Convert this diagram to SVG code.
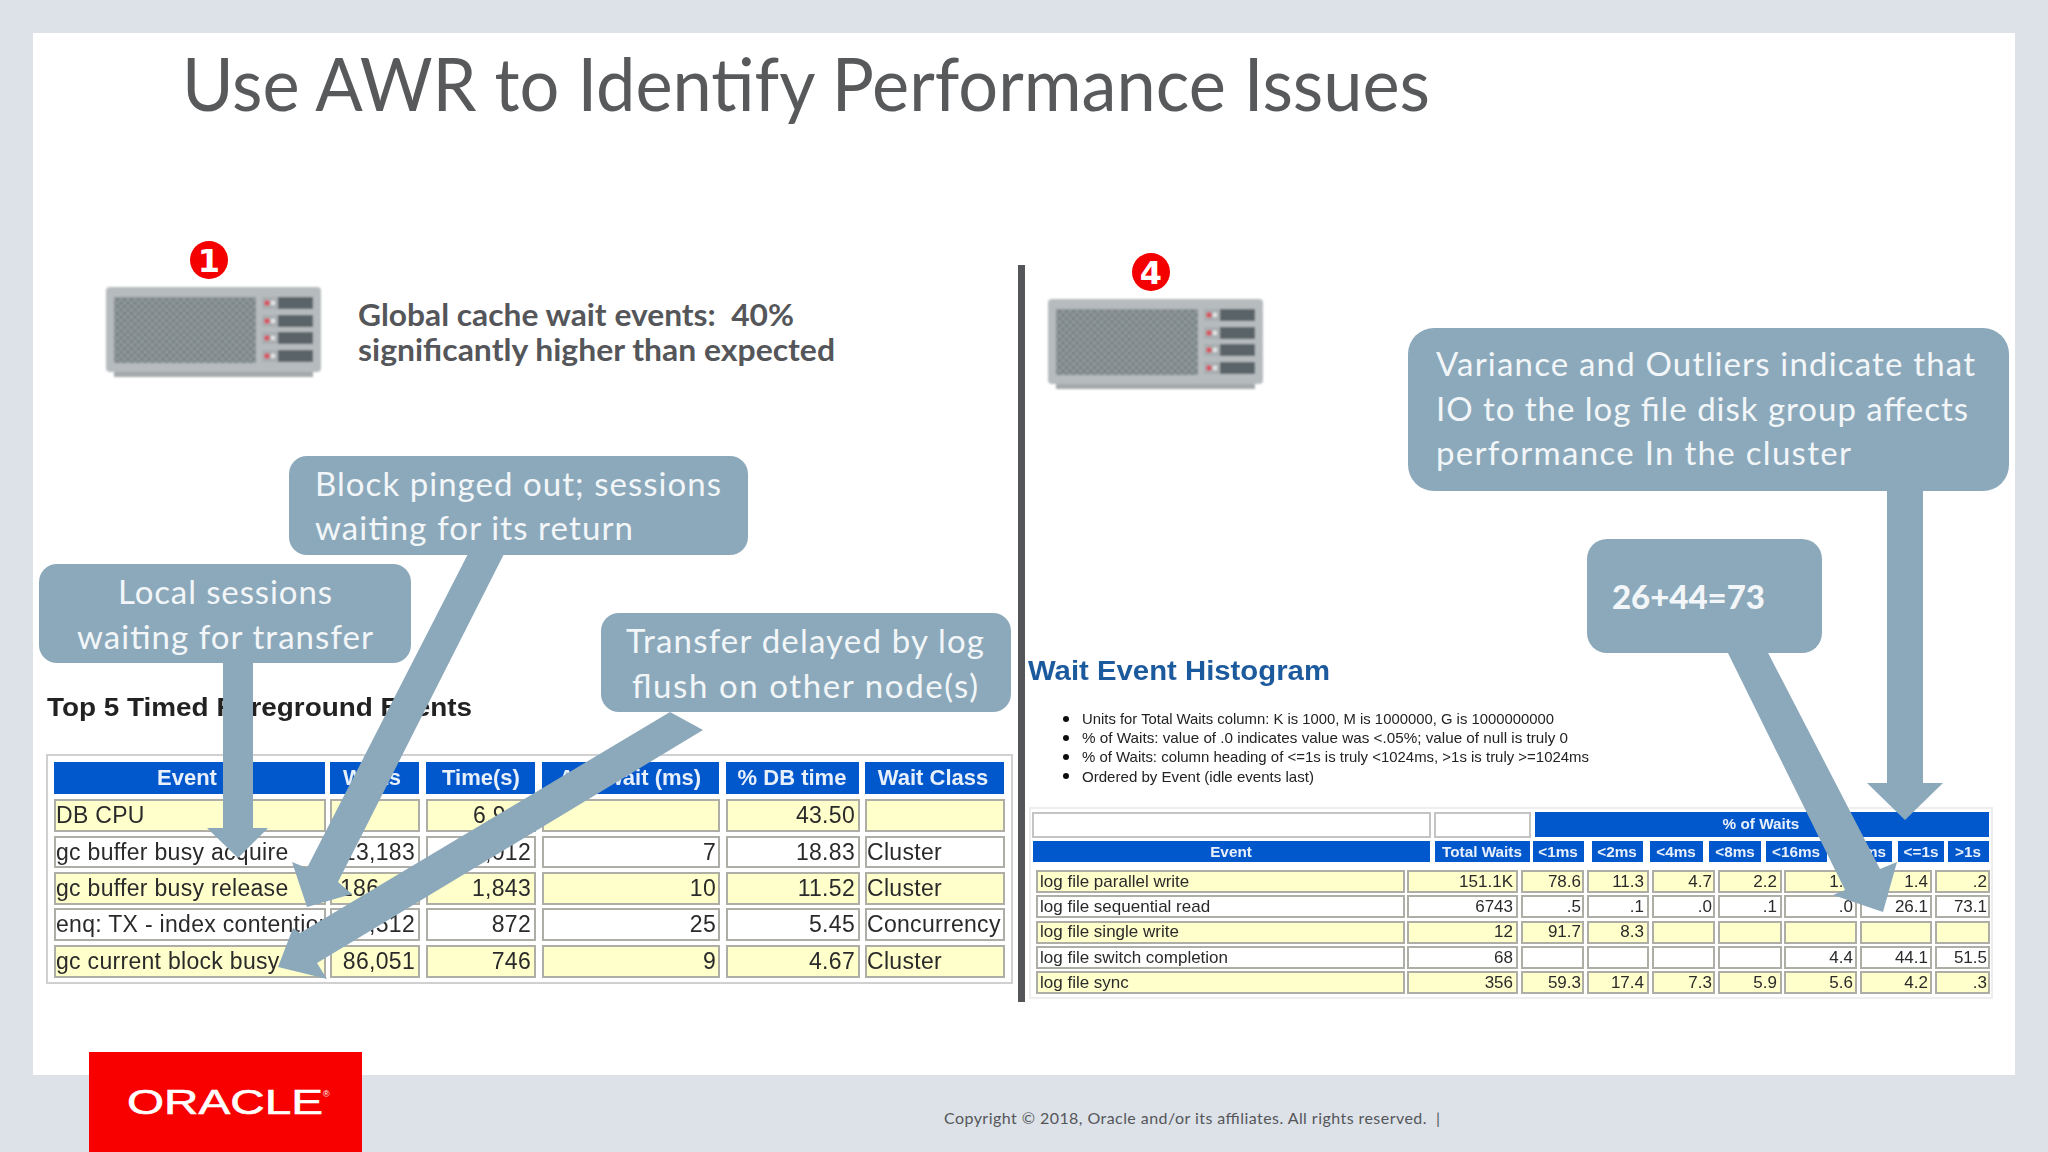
<svg xmlns="http://www.w3.org/2000/svg" width="2048" height="1152" viewBox="0 0 2048 1152">
<style>
.sl{font-family:Lato,"Liberation Sans",sans-serif}
.ca{font-family:Lato,"Liberation Sans",sans-serif;font-size:33px;fill:#f2f6f8}
.co{fill:#8ca9bb}
.y{fill:#ffffcc;stroke:#aeaea6;stroke-width:2}
.w{fill:#fff;stroke:#aeaea6;stroke-width:2}
.w0{fill:#fff;stroke:#c4c4c4;stroke-width:2}
.b{fill:#0558cc}
.t1{font-family:"Liberation Sans",Arial,sans-serif;font-size:23px;letter-spacing:.3px;fill:#2a2a2a}
.h1{font-family:"Liberation Sans",Arial,sans-serif;font-size:22px;font-weight:bold;fill:#e8f0fb;text-anchor:middle}
.t2{font-family:"Liberation Sans",Arial,sans-serif;font-size:17px;fill:#2a2a2a}
.h2{font-family:"Liberation Sans",Arial,sans-serif;font-size:15.3px;font-weight:bold;fill:#e8f0fb;text-anchor:middle}
.n{font-family:"Liberation Sans",Arial,sans-serif;font-size:15px;fill:#222}
.e{text-anchor:end}
.bd{font-family:"DejaVu Sans",sans-serif;font-size:32px;font-weight:bold;fill:#fff;text-anchor:middle}
</style>
<defs>
<filter id="soft" x="-2%" y="-2%" width="104%" height="104%"><feGaussianBlur stdDeviation="0.65"/></filter>
<filter id="softer" x="-2%" y="-2%" width="104%" height="104%"><feGaussianBlur stdDeviation="1"/></filter>
<pattern id="grille" width="7" height="7" patternUnits="userSpaceOnUse"><rect width="7" height="7" fill="#8f979a"/><circle cx="2" cy="2" r="1.5" fill="#6a7477"/><circle cx="5.5" cy="5.5" r="1.5" fill="#6a7477"/></pattern>
<g id="srv" filter="url(#softer)">
<rect x="114" y="370" width="199" height="7" fill="#a4a9ac"/>
<rect x="106" y="287" width="215" height="85" rx="4" fill="#b6bbbe"/>
<rect x="114" y="297" width="142" height="66" fill="url(#grille)"/>
<rect x="262" y="297" width="51" height="12" fill="#a9aeb1"/><rect x="278" y="297" width="35" height="12" fill="#5a6368"/><circle cx="267" cy="303" r="2.8" fill="#d8525e"/><circle cx="273" cy="303" r="2.4" fill="#e2e5e5"/>
<rect x="262" y="315" width="51" height="12" fill="#a9aeb1"/><rect x="278" y="315" width="35" height="12" fill="#5a6368"/><circle cx="267" cy="321" r="2.8" fill="#d8525e"/><circle cx="273" cy="321" r="2.4" fill="#e2e5e5"/>
<rect x="262" y="332" width="51" height="12" fill="#a9aeb1"/><rect x="278" y="332" width="35" height="12" fill="#5a6368"/><circle cx="267" cy="338" r="2.8" fill="#d8525e"/><circle cx="273" cy="338" r="2.4" fill="#e2e5e5"/>
<rect x="262" y="350" width="51" height="12" fill="#a9aeb1"/><rect x="278" y="350" width="35" height="12" fill="#5a6368"/><circle cx="267" cy="356" r="2.8" fill="#d8525e"/><circle cx="273" cy="356" r="2.4" fill="#e2e5e5"/>
</g>
</defs>

<rect width="2048" height="1152" fill="#dce2e8"/>
<rect x="33" y="33" width="1982" height="1042" fill="#fff"/>

<g id="title"><text class="sl" x="182" y="111" font-size="74" fill="#58595b" textLength="1248" lengthAdjust="spacingAndGlyphs">Use AWR to Identify Performance Issues</text></g>

<g id="server1"><use href="#srv"/><circle cx="209" cy="260" r="19" fill="#f40000"/><text class="bd" x="209" y="272">1</text></g>
<g id="server1-note">
<text class="sl" x="358" y="326" font-size="30" font-weight="bold" fill="#55565a" textLength="436" lengthAdjust="spacingAndGlyphs" xml:space="preserve">Global cache wait events:  40%</text>
<text class="sl" x="358" y="361" font-size="30" font-weight="bold" fill="#55565a" textLength="477" lengthAdjust="spacingAndGlyphs">significantly higher than expected</text>
</g>
<g id="server4"><use href="#srv" x="942" y="12"/><circle cx="1151" cy="272" r="19" fill="#f40000"/><text class="bd" x="1151" y="284">4</text></g>

<rect id="divider" x="1018" y="265" width="7" height="737" fill="#55565a"/>

<g id="top5-table" filter="url(#soft)">
<text x="47" y="716" font-family="Liberation Sans,Arial,sans-serif" font-size="25" font-weight="bold" fill="#222" textLength="425" lengthAdjust="spacingAndGlyphs">Top 5 Timed Foreground Events</text>
<rect x="47" y="755" width="965" height="228" fill="#fff" stroke="#d0d0d0" stroke-width="2"/>
<rect class="b" x="54" y="762" width="271" height="32"/><rect class="b" x="330" y="762" width="89" height="32"/><rect class="b" x="426" y="762" width="109" height="32"/><rect class="b" x="542" y="762" width="177" height="32"/><rect class="b" x="726" y="762" width="133" height="32"/><rect class="b" x="865" y="762" width="139" height="32"/>
<text class="h1" x="187" y="785">Event</text><text class="h1" x="372" y="785">Waits</text><text class="h1" x="481" y="785">Time(s)</text><text class="h1" x="630" y="785">Avg wait (ms)</text><text class="h1" x="792" y="785">% DB time</text><text class="h1" x="933" y="785">Wait Class</text>

<rect class="y" x="55" y="800" width="270" height="31"/><rect class="y" x="331" y="800" width="88" height="31"/><rect class="y" x="427" y="800" width="108" height="31"/><rect class="y" x="543" y="800" width="176" height="31"/><rect class="y" x="727" y="800" width="132" height="31"/><rect class="y" x="866" y="800" width="138" height="31"/>
<rect class="w" x="55" y="837" width="270" height="30"/><rect class="w" x="331" y="837" width="88" height="30"/><rect class="w" x="427" y="837" width="108" height="30"/><rect class="w" x="543" y="837" width="176" height="30"/><rect class="w" x="727" y="837" width="132" height="30"/><rect class="w" x="866" y="837" width="138" height="30"/>
<rect class="y" x="55" y="873" width="270" height="31"/><rect class="y" x="331" y="873" width="88" height="31"/><rect class="y" x="427" y="873" width="108" height="31"/><rect class="y" x="543" y="873" width="176" height="31"/><rect class="y" x="727" y="873" width="132" height="31"/><rect class="y" x="866" y="873" width="138" height="31"/>
<rect class="w" x="55" y="909" width="270" height="31"/><rect class="w" x="331" y="909" width="88" height="31"/><rect class="w" x="427" y="909" width="108" height="31"/><rect class="w" x="543" y="909" width="176" height="31"/><rect class="w" x="727" y="909" width="132" height="31"/><rect class="w" x="866" y="909" width="138" height="31"/>
<rect class="y" x="55" y="946" width="270" height="31"/><rect class="y" x="331" y="946" width="88" height="31"/><rect class="y" x="427" y="946" width="108" height="31"/><rect class="y" x="543" y="946" width="176" height="31"/><rect class="y" x="727" y="946" width="132" height="31"/><rect class="y" x="866" y="946" width="138" height="31"/>

<text class="t1" x="56" y="823">DB CPU</text><text class="t1" x="473" y="823">6,9</text><text class="t1 e" x="855" y="823">43.50</text>
<text class="t1" x="56" y="860">gc buffer busy acquire</text><text class="t1 e" x="415" y="860">13,183</text><text class="t1 e" x="531" y="860">,012</text><text class="t1 e" x="716" y="860">7</text><text class="t1 e" x="855" y="860">18.83</text><text class="t1" x="867" y="860">Cluster</text>
<text class="t1" x="56" y="896">gc buffer busy release</text><text class="t1" x="340" y="896">186,4</text><text class="t1 e" x="531" y="896">1,843</text><text class="t1 e" x="716" y="896">10</text><text class="t1 e" x="855" y="896">11.52</text><text class="t1" x="867" y="896">Cluster</text>
<text class="t1" x="56" y="932">enq: TX - index contention</text><text class="t1 e" x="415" y="932">,512</text><text class="t1 e" x="531" y="932">872</text><text class="t1 e" x="716" y="932">25</text><text class="t1 e" x="855" y="932">5.45</text><text class="t1" x="867" y="932">Concurrency</text>
<text class="t1" x="56" y="969">gc current block busy</text><text class="t1 e" x="415" y="969">86,051</text><text class="t1 e" x="531" y="969">746</text><text class="t1 e" x="716" y="969">9</text><text class="t1 e" x="855" y="969">4.67</text><text class="t1" x="867" y="969">Cluster</text>
</g>

<g id="histogram" filter="url(#soft)">
<text x="1028" y="680" font-family="Liberation Sans,Arial,sans-serif" font-size="28" font-weight="bold" fill="#1e5a9e" textLength="302" lengthAdjust="spacingAndGlyphs">Wait Event Histogram</text>
<circle cx="1066" cy="719" r="3" fill="#111"/><text class="n" x="1082" y="724" textLength="472" lengthAdjust="spacingAndGlyphs">Units for Total Waits column: K is 1000, M is 1000000, G is 1000000000</text>
<circle cx="1066" cy="738" r="3" fill="#111"/><text class="n" x="1082" y="743" textLength="486" lengthAdjust="spacingAndGlyphs">% of Waits: value of .0 indicates value was &lt;.05%; value of null is truly 0</text>
<circle cx="1066" cy="757" r="3" fill="#111"/><text class="n" x="1082" y="762" textLength="507" lengthAdjust="spacingAndGlyphs">% of Waits: column heading of &lt;=1s is truly &lt;1024ms, &gt;1s is truly &gt;=1024ms</text>
<circle cx="1066" cy="776" r="3" fill="#111"/><text class="n" x="1082" y="782" textLength="232" lengthAdjust="spacingAndGlyphs">Ordered by Event (idle events last)</text>

<rect x="1030" y="808" width="962" height="190" fill="#fff" stroke="#eee" stroke-width="2"/>
<rect class="w0" x="1033" y="813" width="397" height="24"/><rect class="w0" x="1435" y="813" width="95" height="24"/>
<rect class="b" x="1535" y="812" width="454" height="25"/><text class="h2" x="1761" y="829">% of Waits</text>
<rect class="b" x="1033" y="841" width="397" height="21"/><rect class="b" x="1435" y="841" width="95" height="21"/><rect class="b" x="1533" y="841" width="51" height="21"/><rect class="b" x="1592" y="841" width="51" height="21"/><rect class="b" x="1650" y="841" width="53" height="21"/><rect class="b" x="1709" y="841" width="52" height="21"/><rect class="b" x="1766" y="841" width="61" height="21"/><rect class="b" x="1832" y="841" width="60" height="21"/><rect class="b" x="1898" y="841" width="46" height="21"/><rect class="b" x="1948" y="841" width="41" height="21"/>
<text class="h2" x="1231" y="857">Event</text><text class="h2" x="1482" y="857">Total Waits</text><text class="h2" x="1558" y="857">&lt;1ms</text><text class="h2" x="1617" y="857">&lt;2ms</text><text class="h2" x="1676" y="857">&lt;4ms</text><text class="h2" x="1735" y="857">&lt;8ms</text><text class="h2" x="1796" y="857">&lt;16ms</text><text class="h2" x="1862" y="857">&lt;32ms</text><text class="h2" x="1921" y="857">&lt;=1s</text><text class="h2" x="1968" y="857">&gt;1s</text>

<rect class="y" x="1037" y="871" width="367" height="21"/><rect class="y" x="1408" y="871" width="109" height="21"/><rect class="y" x="1522" y="871" width="61" height="21"/><rect class="y" x="1588" y="871" width="60" height="21"/><rect class="y" x="1653" y="871" width="61" height="21"/><rect class="y" x="1719" y="871" width="62" height="21"/><rect class="y" x="1785" y="871" width="71" height="21"/><rect class="y" x="1861" y="871" width="70" height="21"/><rect class="y" x="1936" y="871" width="53" height="21"/>
<rect class="w" x="1037" y="896" width="367" height="21"/><rect class="w" x="1408" y="896" width="109" height="21"/><rect class="w" x="1522" y="896" width="61" height="21"/><rect class="w" x="1588" y="896" width="60" height="21"/><rect class="w" x="1653" y="896" width="61" height="21"/><rect class="w" x="1719" y="896" width="62" height="21"/><rect class="w" x="1785" y="896" width="71" height="21"/><rect class="w" x="1861" y="896" width="70" height="21"/><rect class="w" x="1936" y="896" width="53" height="21"/>
<rect class="y" x="1037" y="922" width="367" height="21"/><rect class="y" x="1408" y="922" width="109" height="21"/><rect class="y" x="1522" y="922" width="61" height="21"/><rect class="y" x="1588" y="922" width="60" height="21"/><rect class="y" x="1653" y="922" width="61" height="21"/><rect class="y" x="1719" y="922" width="62" height="21"/><rect class="y" x="1785" y="922" width="71" height="21"/><rect class="y" x="1861" y="922" width="70" height="21"/><rect class="y" x="1936" y="922" width="53" height="21"/>
<rect class="w" x="1037" y="947" width="367" height="21"/><rect class="w" x="1408" y="947" width="109" height="21"/><rect class="w" x="1522" y="947" width="61" height="21"/><rect class="w" x="1588" y="947" width="60" height="21"/><rect class="w" x="1653" y="947" width="61" height="21"/><rect class="w" x="1719" y="947" width="62" height="21"/><rect class="w" x="1785" y="947" width="71" height="21"/><rect class="w" x="1861" y="947" width="70" height="21"/><rect class="w" x="1936" y="947" width="53" height="21"/>
<rect class="y" x="1037" y="972" width="367" height="21"/><rect class="y" x="1408" y="972" width="109" height="21"/><rect class="y" x="1522" y="972" width="61" height="21"/><rect class="y" x="1588" y="972" width="60" height="21"/><rect class="y" x="1653" y="972" width="61" height="21"/><rect class="y" x="1719" y="972" width="62" height="21"/><rect class="y" x="1785" y="972" width="71" height="21"/><rect class="y" x="1861" y="972" width="70" height="21"/><rect class="y" x="1936" y="972" width="53" height="21"/>

<text class="t2" x="1040" y="887">log file parallel write</text><text class="t2 e" x="1513" y="887">151.1K</text><text class="t2 e" x="1581" y="887">78.6</text><text class="t2 e" x="1644" y="887">11.3</text><text class="t2 e" x="1712" y="887">4.7</text><text class="t2 e" x="1777" y="887">2.2</text><text class="t2 e" x="1853" y="887">1.6</text><text class="t2 e" x="1928" y="887">1.4</text><text class="t2 e" x="1987" y="887">.2</text>
<text class="t2" x="1040" y="912">log file sequential read</text><text class="t2 e" x="1513" y="912">6743</text><text class="t2 e" x="1581" y="912">.5</text><text class="t2 e" x="1644" y="912">.1</text><text class="t2 e" x="1712" y="912">.0</text><text class="t2 e" x="1777" y="912">.1</text><text class="t2 e" x="1853" y="912">.0</text><text class="t2 e" x="1928" y="912">26.1</text><text class="t2 e" x="1987" y="912">73.1</text>
<text class="t2" x="1040" y="937">log file single write</text><text class="t2 e" x="1513" y="937">12</text><text class="t2 e" x="1581" y="937">91.7</text><text class="t2 e" x="1644" y="937">8.3</text>
<text class="t2" x="1040" y="963">log file switch completion</text><text class="t2 e" x="1513" y="963">68</text><text class="t2 e" x="1853" y="963">4.4</text><text class="t2 e" x="1928" y="963">44.1</text><text class="t2 e" x="1987" y="963">51.5</text>
<text class="t2" x="1040" y="988">log file sync</text><text class="t2 e" x="1513" y="988">356</text><text class="t2 e" x="1581" y="988">59.3</text><text class="t2 e" x="1644" y="988">17.4</text><text class="t2 e" x="1712" y="988">7.3</text><text class="t2 e" x="1777" y="988">5.9</text><text class="t2 e" x="1853" y="988">5.6</text><text class="t2 e" x="1928" y="988">4.2</text><text class="t2 e" x="1987" y="988">.3</text>
</g>

<g id="connectors" class="co">
<polygon points="223,655 253,655 253,828 268,828 238,858 207,828 223,828"/>
<polygon points="470,550 506,550 338,882 352,894 307,907 292,862 307,868"/>
<polygon points="670,712 703,730 317,963 327,979 278,967 293,928 300,933"/>
<polygon points="1724,645 1764,645 1880,869 1897,862 1883,912 1833,895 1845,890"/>
<polygon points="1887,485 1923,485 1923,783 1943,783 1905,820 1867,783 1887,783"/>
</g>

<g id="callout-local"><rect class="co" x="39" y="564" width="372" height="99" rx="18"/>
<text class="ca" x="118" y="604" textLength="214">Local sessions</text><text class="ca" x="77" y="649" textLength="296">waiting for transfer</text></g>
<g id="callout-block"><rect class="co" x="289" y="456" width="459" height="99" rx="18"/>
<text class="ca" x="315" y="496" textLength="406">Block pinged out; sessions</text><text class="ca" x="315" y="540" textLength="318">waiting for its return</text></g>
<g id="callout-transfer"><rect class="co" x="601" y="613" width="410" height="99" rx="18"/>
<text class="ca" x="626" y="653" textLength="358">Transfer delayed by log</text><text class="ca" x="632" y="698" textLength="346">flush on other node(s)</text></g>
<g id="callout-variance"><rect class="co" x="1408" y="328" width="601" height="163" rx="26"/>
<text class="ca" x="1436" y="376" textLength="539">Variance and Outliers indicate that</text><text class="ca" x="1436" y="421" textLength="532">IO to the log file disk group affects</text><text class="ca" x="1436" y="465" textLength="415">performance In the cluster</text></g>
<g id="callout-sum"><rect class="co" x="1587" y="539" width="235" height="114" rx="20"/>
<text class="ca" x="1612" y="609" font-weight="900" textLength="153">26+44=73</text></g>

<g id="oracle-logo"><rect x="89" y="1052" width="273" height="100" fill="#f80000"/>
<text x="127" y="1114" font-family="Liberation Sans,Arial,sans-serif" font-size="35" fill="#fff" stroke="#fff" stroke-width="0.6" textLength="196" lengthAdjust="spacingAndGlyphs">ORACLE</text>
<text x="323" y="1097" font-family="Liberation Sans,Arial,sans-serif" font-size="9" fill="#fff">®</text></g>

<text id="copyright" class="sl" x="944" y="1124" font-size="16" fill="#55565a" textLength="496" xml:space="preserve">Copyright © 2018, Oracle and/or its affiliates. All rights reserved.  |</text>
</svg>
